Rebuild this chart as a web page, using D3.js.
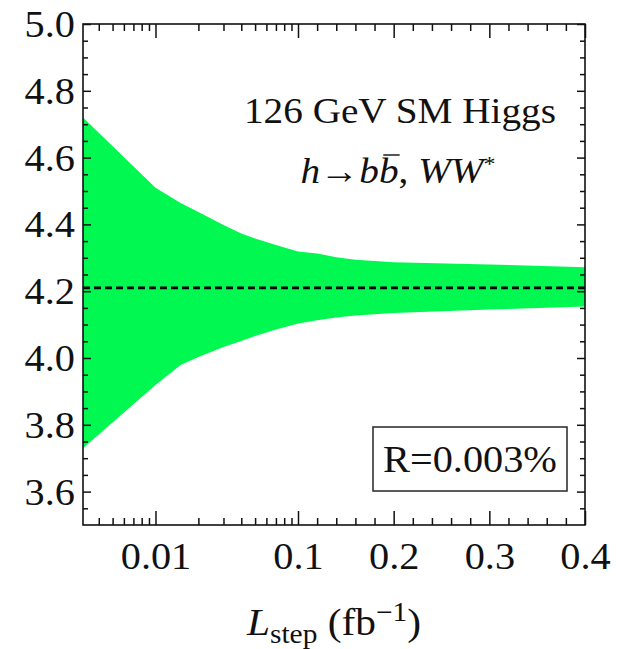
<!DOCTYPE html>
<html>
<head>
    <meta charset="utf-8">
    <title>Lstep band</title>
    <style>
        body { margin: 0; background: #fff; }
        svg text { font-family: "Liberation Serif", "Times New Roman", serif; fill: #111; }
        .tick line { stroke: #111; stroke-width: 1.5; }
    </style>
</head>
<body>
    <svg id="chart" width="620" height="649"></svg>

    <script src="https://d3js.org/d3.v7.min.js"></script>
    <script>
        // L_step values (fb^-1) and band edges
        const Ls = [0.0031, 0.01, 0.015, 0.02, 0.03, 0.04, 0.05, 0.07, 0.1, 0.12, 0.14, 0.16, 0.2, 0.3, 0.4];
        const upper = [4.72, 4.51, 4.464, 4.437, 4.398, 4.373, 4.358, 4.338, 4.319, 4.313, 4.302, 4.294, 4.287, 4.280, 4.272];
        const lower = [3.73, 3.919, 3.979, 4.003, 4.033, 4.051, 4.066, 4.085, 4.103, 4.113, 4.121, 4.127, 4.135, 4.145, 4.154];
        const central = 4.21;

        const xMajor = [0.01, 0.1, 0.2, 0.3, 0.4];
        const xTickLabels = ['0.01', '0.1', '0.2', '0.3', '0.4'];
        const xMinor = [0.004, 0.005, 0.006, 0.007, 0.008, 0.009,
            0.02, 0.03, 0.04, 0.05, 0.06, 0.07, 0.08, 0.09,
            0.12, 0.14, 0.16, 0.18, 0.22, 0.24, 0.26, 0.28, 0.32, 0.34, 0.36, 0.38];
        const yMajor = [3.6, 3.8, 4.0, 4.2, 4.4, 4.6, 4.8, 5.0];
        const yTickLabels = ['3.6', '3.8', '4.0', '4.2', '4.4', '4.6', '4.8', '5.0'];
        const yMinor = [3.55, 3.65, 3.7, 3.75, 3.85, 3.9, 3.95, 4.05, 4.1, 4.15, 4.25, 4.3, 4.35,
            4.45, 4.5, 4.55, 4.65, 4.7, 4.75, 4.85, 4.9, 4.95];

        const m = { left: 83, right: 585, top: 24, bottom: 525 };
        const xBreak = 298; // where the log part (below 0.1) meets the linear part
        const serif = '"Liberation Serif", "Times New Roman", serif';
        const wide = 1.09; // the original type is a little wider than Liberation Serif

        const svg = d3.select('#chart');

        // stretch a text sideways around the point ax
        function widen(sel, ax) {
            sel.attr('transform', `translate(${ax},0) scale(${wide},1) translate(${-ax},0)`);
        }

        // x axis: log up to 0.1, linear after that
        const xLog = d3.scaleLog().domain([Ls[0], 0.1]).range([m.left, xBreak]);
        const xLin = d3.scaleLinear().domain([0.1, 0.4]).range([xBreak, m.right]);
        function makeX() {
            const f = v => v <= 0.1 ? xLog(v) : xLin(v);
            f.copy = makeX;
            f.domain = () => [Ls[0], 0.4];
            f.range = () => [m.left, m.right];
            return f;
        }
        const x = makeX();
        const y = d3.scaleLinear().domain([3.5, 5.0]).range([m.bottom, m.top]);

        const rows = Ls.map((L, i) => ({ L, lo: lower[i], hi: upper[i] }));

        // green band
        svg.append('path')
            .datum(rows)
            .attr('d', d3.area()
                .x(d => x(d.L))
                .y0(d => y(d.lo))
                .y1(d => y(d.hi)))
            .attr('fill', '#00f850');

        // central value
        svg.append('line')
            .attr('x1', m.left).attr('x2', m.right)
            .attr('y1', y(central)).attr('y2', y(central))
            .attr('stroke', '#000')
            .attr('stroke-width', 2.6)
            .attr('stroke-dasharray', '7,4');

        // ticks on all four sides, pointing in
        function addAxis(axis, tx, ty) {
            const g = svg.append('g').attr('transform', `translate(${tx},${ty})`).call(axis);
            g.select('.domain').remove();
            g.attr('font-family', serif);
            return g;
        }
        const blank = () => '';

        const xb = addAxis(d3.axisBottom(x).tickValues(xMajor).tickSizeInner(-14).tickSizeOuter(0)
            .tickPadding(18).tickFormat((d, i) => xTickLabels[i]), 0, m.bottom);
        addAxis(d3.axisBottom(x).tickValues(xMinor).tickSizeInner(-7).tickSizeOuter(0).tickFormat(blank), 0, m.bottom);
        addAxis(d3.axisTop(x).tickValues(xMajor).tickSizeInner(-14).tickSizeOuter(0).tickFormat(blank), 0, m.top);
        addAxis(d3.axisTop(x).tickValues(xMinor).tickSizeInner(-7).tickSizeOuter(0).tickFormat(blank), 0, m.top);

        const yl = addAxis(d3.axisLeft(y).tickValues(yMajor).tickSizeInner(-8).tickSizeOuter(0)
            .tickPadding(8).tickFormat((d, i) => yTickLabels[i]), m.left, 0);
        addAxis(d3.axisLeft(y).tickValues(yMinor).tickSizeInner(-5).tickSizeOuter(0).tickFormat(blank), m.left, 0);
        addAxis(d3.axisRight(y).tickValues(yMajor).tickSizeInner(-8).tickSizeOuter(0).tickFormat(blank), m.right, 0);
        addAxis(d3.axisRight(y).tickValues(yMinor).tickSizeInner(-5).tickSizeOuter(0).tickFormat(blank), m.right, 0);

        xb.selectAll('text').style('font-size', '37px').attr('dy', '0.71em')
            .style('font-family', serif).call(widen, 0);
        yl.selectAll('text').style('font-size', '37px').attr('dy', '0.34em')
            .style('font-family', serif).call(widen, -8);

        // frame
        svg.append('rect')
            .attr('x', m.left).attr('y', m.top)
            .attr('width', m.right - m.left).attr('height', m.bottom - m.top)
            .attr('fill', 'none')
            .attr('stroke', '#111')
            .attr('stroke-width', 1.6);

        // annotations
        svg.append('text')
            .attr('x', 400).attr('y', 123)
            .attr('text-anchor', 'middle')
            .style('font-size', '36px')
            .style('font-family', serif)
            .text('126 GeV SM Higgs')
            .call(widen, 400);

        const decay = svg.append('text')
            .attr('x', 398).attr('y', 183)
            .attr('text-anchor', 'middle')
            .style('font-size', '36px')
            .style('font-family', serif);
        decay.append('tspan').style('font-style', 'italic').text('h');
        decay.append('tspan').text('\u2192');
        decay.append('tspan').style('font-style', 'italic').text('bb');
        decay.append('tspan').text(', ');
        decay.append('tspan').style('font-style', 'italic').text('WW');
        decay.append('tspan').attr('dy', -12).style('font-size', '22px').text('*');
        decay.call(widen, 398);

        // bar over the second b
        const bBox = decay.node().getExtentOfChar(3);
        const toX = v => 398 + (v - 398) * wide;
        svg.append('line')
            .attr('x1', toX(bBox.x + 4)).attr('x2', toX(bBox.x + bBox.width + 1))
            .attr('y1', 155).attr('y2', 155)
            .attr('stroke', '#555')
            .attr('stroke-width', 2);

        svg.append('rect')
            .attr('x', 373).attr('y', 427)
            .attr('width', 194).attr('height', 64)
            .attr('fill', '#fff')
            .attr('stroke', '#333')
            .attr('stroke-width', 1.6);
        svg.append('text')
            .attr('x', 470).attr('y', 472)
            .attr('text-anchor', 'middle')
            .style('font-size', '37px')
            .style('font-family', serif)
            .text('R=0.003%')
            .call(widen, 470);

        // x axis title
        const title = svg.append('text')
            .attr('x', 334).attr('y', 635)
            .attr('text-anchor', 'middle')
            .style('font-size', '38px')
            .style('font-family', serif);
        title.append('tspan').style('font-style', 'italic').text('L');
        title.append('tspan').attr('dy', 8).style('font-size', '27px').text('step');
        title.append('tspan').attr('dy', -8).text(' (fb');
        title.append('tspan').attr('dy', -14).style('font-size', '27px').text('\u22121');
        title.append('tspan').attr('dy', 14).text(')');
        title.call(widen, 334);
    </script>
</body>
</html>
